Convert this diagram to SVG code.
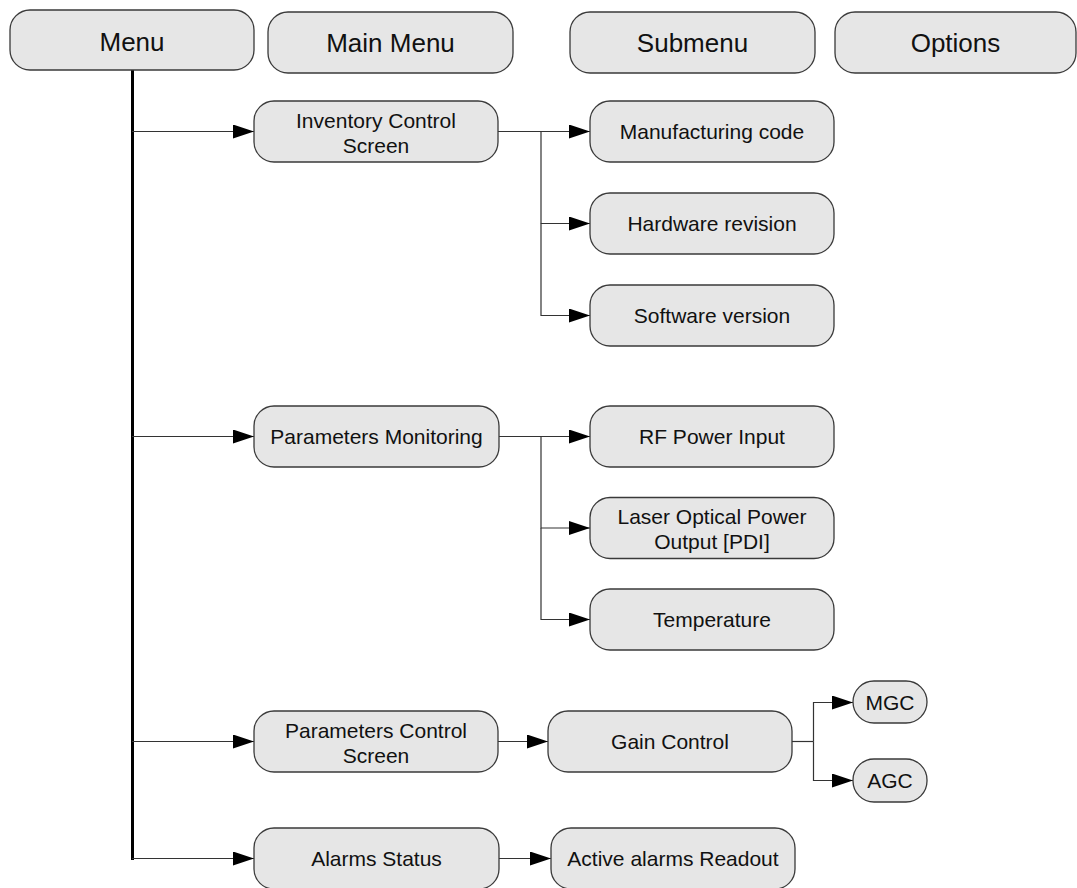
<svg xmlns="http://www.w3.org/2000/svg" width="1077" height="888" viewBox="0 0 1077 888">
<style>
.box{fill:#e6e6e6;stroke:#3a3a3a;stroke-width:1.3}
.t{font-family:"Liberation Sans",Arial,sans-serif;font-size:21px;fill:#111;text-anchor:middle}
.h{font-family:"Liberation Sans",Arial,sans-serif;font-size:26px;fill:#111;text-anchor:middle}
.c{fill:none;stroke:#333;stroke-width:1.2}
.a{marker-end:url(#arr)}
</style>
<defs>
<marker id="arr" markerUnits="userSpaceOnUse" markerWidth="22" markerHeight="16" refX="21" refY="7" orient="auto">
<path d="M0,0 L21,7 L0,14 Z" fill="#000"/>
</marker>
</defs>
<rect width="1077" height="888" fill="#fff"/>
<g id="connectors">
<line x1="132.5" y1="70" x2="132.5" y2="860" stroke="#000" stroke-width="3"/>
<line class="c a" x1="132" y1="131.5" x2="254" y2="131.5"/>
<line class="c a" x1="132" y1="436.5" x2="254" y2="436.5"/>
<line class="c a" x1="132" y1="741.5" x2="254" y2="741.5"/>
<line class="c a" x1="132" y1="858.5" x2="254" y2="858.5"/>
<line class="c a" x1="498" y1="131.5" x2="590" y2="131.5"/>
<polyline class="c a" points="541,131.5 541,223.5 590,223.5"/>
<polyline class="c a" points="541,223.5 541,315.5 590,315.5"/>
<line class="c a" x1="499" y1="436.5" x2="590" y2="436.5"/>
<polyline class="c a" points="541,436.5 541,528 590,528"/>
<polyline class="c a" points="541,528 541,619.5 590,619.5"/>
<line class="c a" x1="498" y1="741.5" x2="548" y2="741.5"/>
<line class="c" x1="792" y1="741.5" x2="813.5" y2="741.5"/>
<polyline class="c a" points="813.5,741.5 813.5,702.5 853,702.5"/>
<polyline class="c a" points="813.5,741.5 813.5,780.5 853,780.5"/>
<line class="c a" x1="499" y1="858.5" x2="551" y2="858.5"/>
</g>
<g id="menu"><rect class="box" x="10" y="10" width="244" height="60" rx="20"/><text class="h" x="132" y="51">Menu</text></g>
<g id="main-menu"><rect class="box" x="268" y="12" width="245" height="61" rx="20"/><text class="h" x="390.5" y="52">Main Menu</text></g>
<g id="submenu"><rect class="box" x="570" y="12" width="245" height="61" rx="20"/><text class="h" x="692.5" y="52">Submenu</text></g>
<g id="options"><rect class="box" x="835" y="12" width="241" height="61" rx="20"/><text class="h" x="955.5" y="52">Options</text></g>
<g id="inventory"><rect class="box" x="254" y="101" width="244" height="61" rx="20"/><text class="t" x="376" y="127.5">Inventory Control</text><text class="t" x="376" y="152.5">Screen</text></g>
<g id="manufacturing"><rect class="box" x="590" y="101" width="244" height="61" rx="20"/><text class="t" x="712" y="139">Manufacturing code</text></g>
<g id="hardware"><rect class="box" x="590" y="193" width="244" height="61" rx="20"/><text class="t" x="712" y="231">Hardware revision</text></g>
<g id="software"><rect class="box" x="590" y="285" width="244" height="61" rx="20"/><text class="t" x="712" y="323">Software version</text></g>
<g id="param-monitoring"><rect class="box" x="254" y="406" width="245" height="61" rx="20"/><text class="t" x="376.5" y="444">Parameters Monitoring</text></g>
<g id="rf-power"><rect class="box" x="590" y="406" width="244" height="61" rx="20"/><text class="t" x="712" y="444">RF Power Input</text></g>
<g id="laser"><rect class="box" x="590" y="497.5" width="244" height="61" rx="20"/><text class="t" x="712" y="524">Laser Optical Power</text><text class="t" x="712" y="549">Output [PDI]</text></g>
<g id="temperature"><rect class="box" x="590" y="589" width="244" height="61" rx="20"/><text class="t" x="712" y="627">Temperature</text></g>
<g id="param-control"><rect class="box" x="254" y="711" width="244" height="61" rx="20"/><text class="t" x="376" y="737.5">Parameters Control</text><text class="t" x="376" y="762.5">Screen</text></g>
<g id="gain-control"><rect class="box" x="548" y="711" width="244" height="61" rx="20"/><text class="t" x="670" y="749">Gain Control</text></g>
<g id="mgc"><rect class="box" x="853" y="681" width="74" height="42" rx="21"/><text class="t" x="890" y="710">MGC</text></g>
<g id="agc"><rect class="box" x="853" y="759" width="74" height="43" rx="21"/><text class="t" x="890" y="788">AGC</text></g>
<g id="alarms-status"><rect class="box" x="254" y="828" width="245" height="61" rx="20"/><text class="t" x="376.5" y="866">Alarms Status</text></g>
<g id="active-alarms"><rect class="box" x="551" y="828" width="244" height="61" rx="20"/><text class="t" x="673" y="866">Active alarms Readout</text></g>
</svg>
